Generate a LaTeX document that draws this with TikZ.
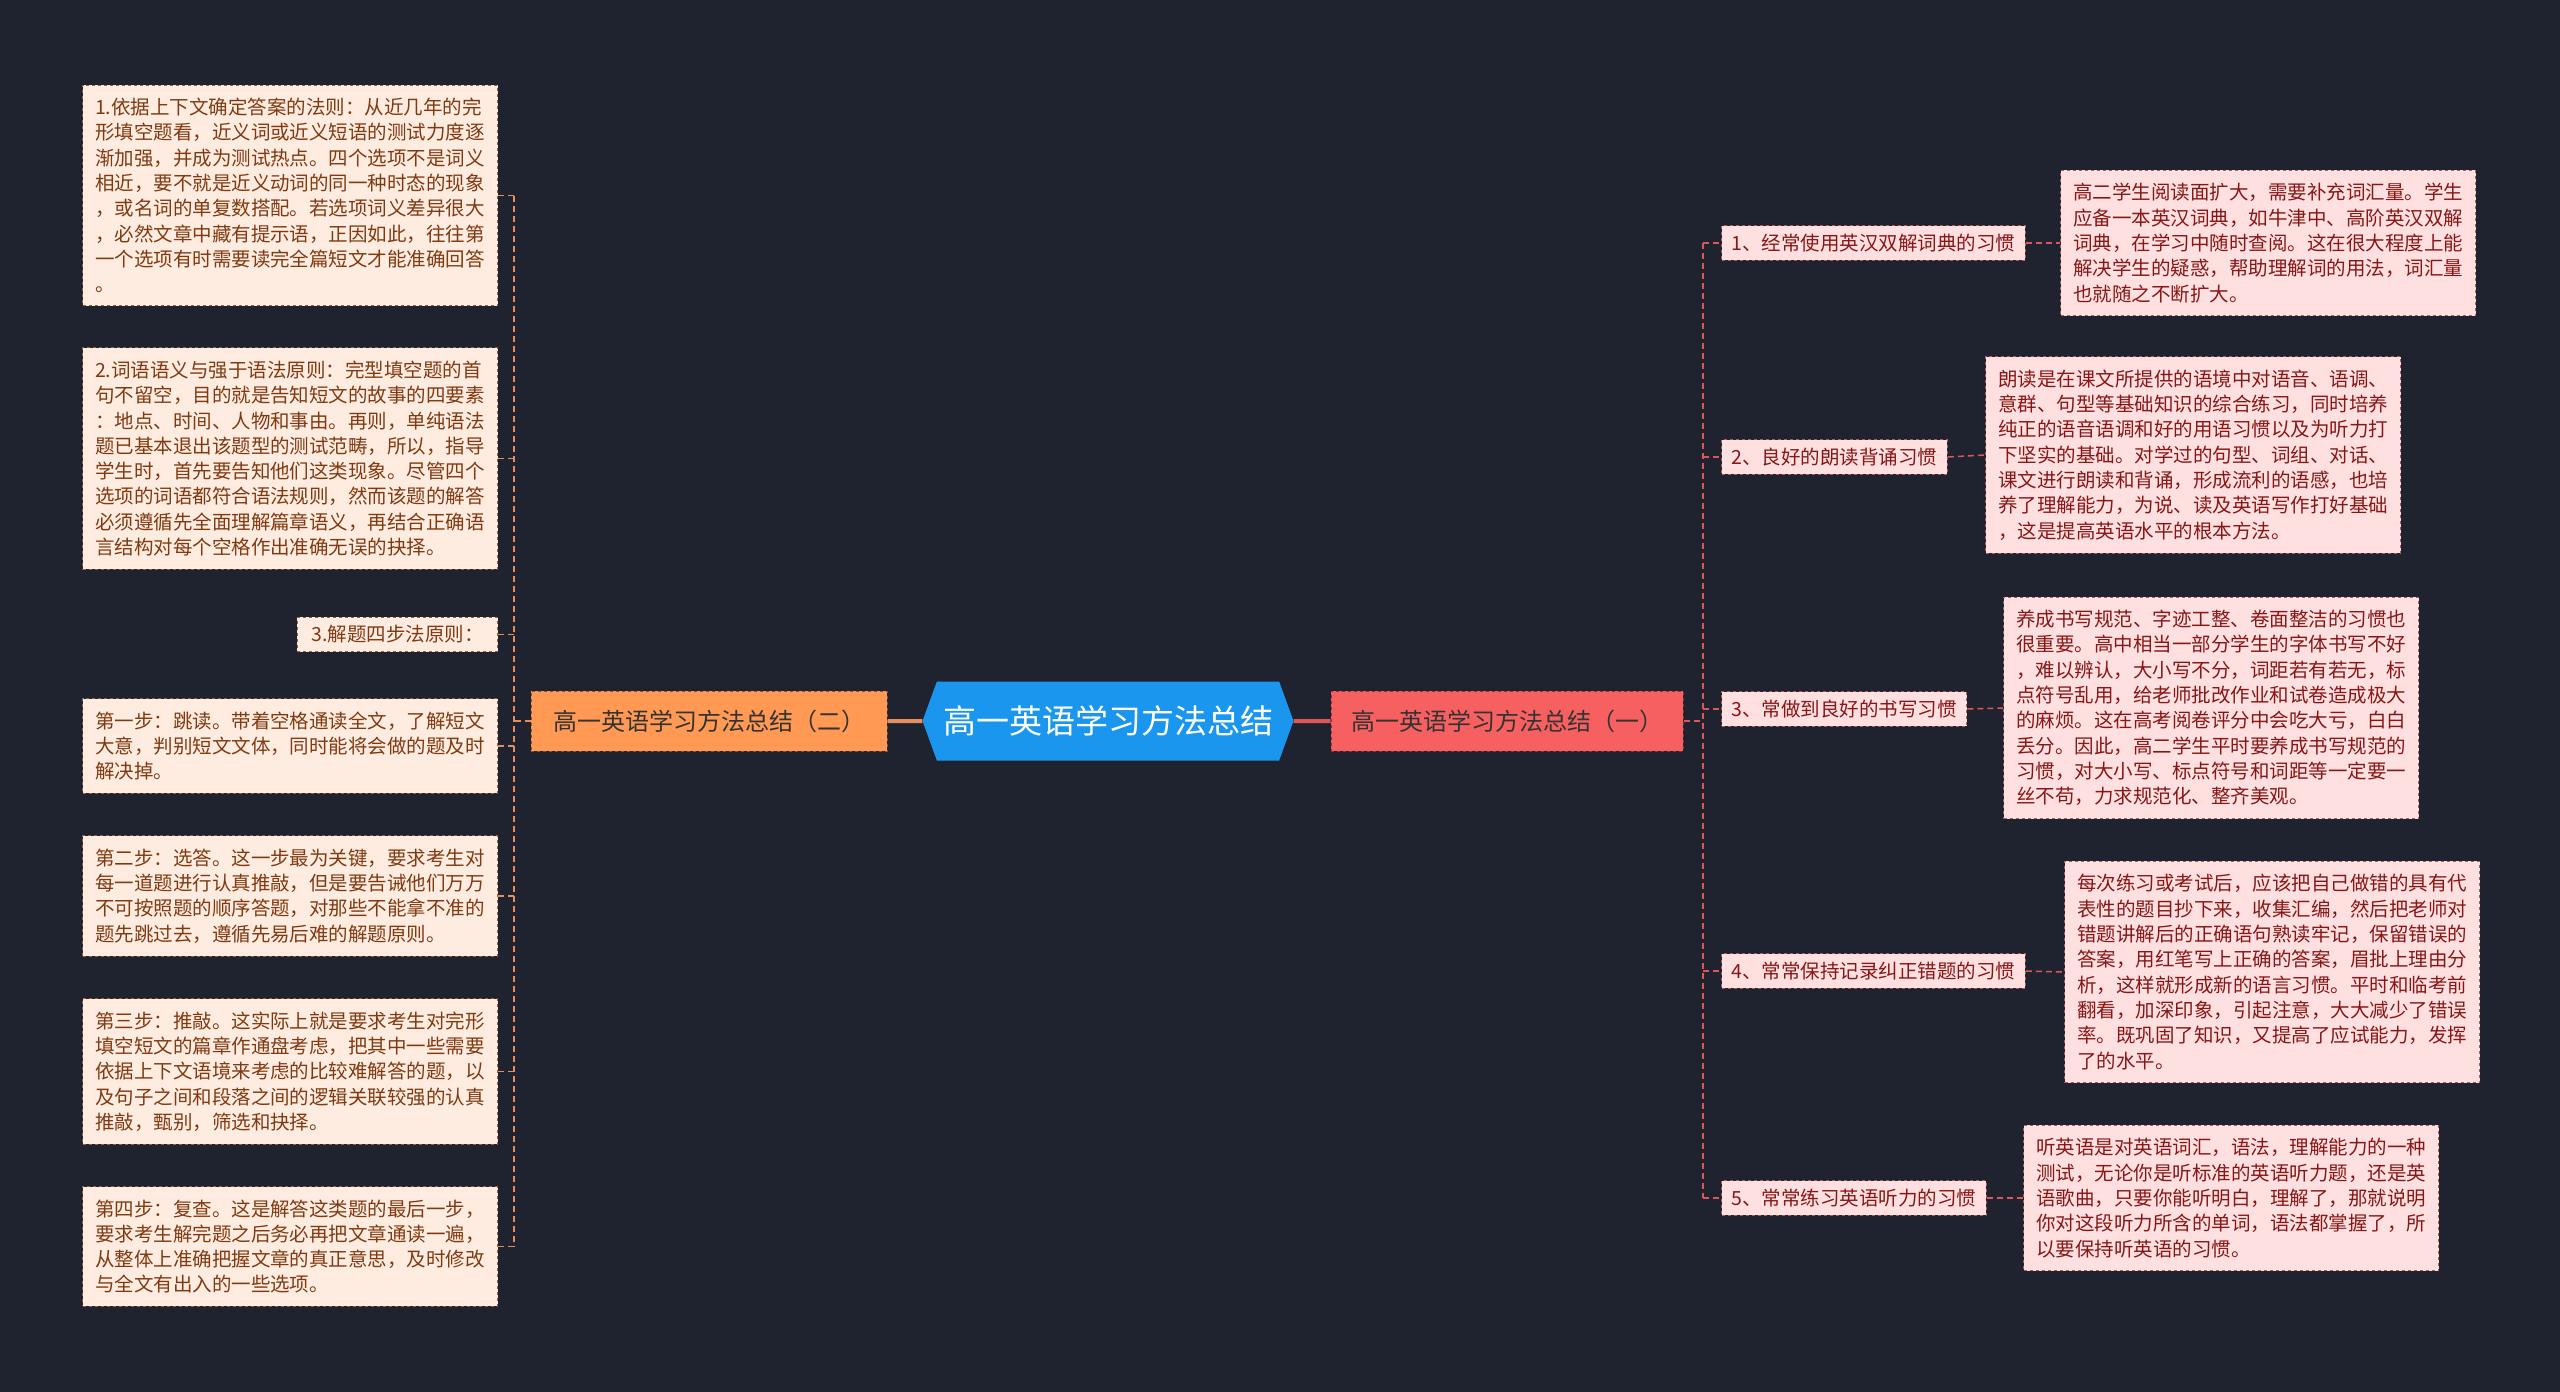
\documentclass[tikz,border=0pt]{standalone}
\usepackage{fontspec}
\setmainfont{Noto Sans CJK SC}
\usepackage{tikz}
\usetikzlibrary{positioning, shapes.symbols}
\definecolor{bgdark}{RGB}{31,35,48}
\definecolor{rootblue}{RGB}{27,150,238}
\definecolor{leftorange}{RGB}{255,153,84}
\definecolor{rightred}{RGB}{247,96,96}
\definecolor{notepeach}{RGB}{255,236,224}
\definecolor{notepink}{RGB}{255,224,224}
\definecolor{textbrown}{RGB}{128,58,18}
\definecolor{textred}{RGB}{136,22,22}
\definecolor{linkorange}{RGB}{232,140,92}
\definecolor{linkred}{RGB}{222,86,86}
\tikzset{
  root/.style={signal, signal to=west and east, signal pointer angle=140, fill=rootblue,
               text=white, font=\fontsize{33}{40}\selectfont, minimum width=371pt, minimum height=79pt},
  branchL/.style={fill=leftorange, draw=leftorange!55!black, dashed, line width=1pt,
                  text=black!80, font=\fontsize{24}{30}\selectfont, minimum width=356pt, minimum height=60pt},
  branchR/.style={fill=rightred, draw=rightred!55!black, dashed, line width=1pt,
                  text=black!80, font=\fontsize{24}{30}\selectfont, minimum width=352pt, minimum height=60pt},
  habit/.style={fill=notepink, draw=textred!70, dashed, line width=1pt, text=textred,
                font=\fontsize{19.5}{25.3}\selectfont, inner xsep=10pt, inner ysep=8pt},
  noteR/.style={fill=notepink, draw=textred!70, dashed, line width=1pt, text=textred, align=left,
                font=\fontsize{19.5}{25.3}\selectfont, inner xsep=12.5pt, inner ysep=13pt},
  noteL/.style={fill=notepeach, draw=textbrown!80, dashed, line width=1pt, text=textbrown, align=left,
                font=\fontsize{19.5}{25.3}\selectfont, inner xsep=12.5pt, inner ysep=13pt},
  linkL/.style={draw=linkorange, line width=1.5pt, dash pattern=on 6pt off 4pt},
  linkR/.style={draw=linkred, line width=1.5pt, dash pattern=on 6pt off 4pt},
}
\begin{document}
\begin{tikzpicture}[x=1pt, y=-1pt]
\useasboundingbox[fill=bgdark] (0,0) rectangle (2560,1392);
% centre and the two halves
\node[root] (root) at (1108,721) {高一英语学习方法总结};
\node[branchL] (bl) at (709,721) {高一英语学习方法总结（二）};
\node[branchR] (br) at (1507,721) {高一英语学习方法总结（一）};
\coordinate (lbus) at (514,721);
\coordinate (rbus) at (1703,721);
% right half
\node[habit, anchor=west] (h1) at (1721,243) {1、经常使用英汉双解词典的习惯};
\node[habit, anchor=west] (h2) at (1721,457) {2、良好的朗读背诵习惯};
\node[habit, anchor=west] (h3) at (1721,709) {3、常做到良好的书写习惯};
\node[habit, anchor=west] (h4) at (1721,971) {4、常常保持记录纠正错题的习惯};
\node[habit, anchor=west] (h5) at (1721,1198) {5、常常练习英语听力的习惯};
\node[noteR, anchor=west] (n1) at (2060,243) {高二学生阅读面扩大，需要补充词汇量。学生\\应备一本英汉词典，如牛津中、高阶英汉双解\\词典，在学习中随时查阅。这在很大程度上能\\解决学生的疑惑，帮助理解词的用法，词汇量\\也就随之不断扩大。};
\node[noteR, anchor=west] (n2) at (1985,455) {朗读是在课文所提供的语境中对语音、语调、\\意群、句型等基础知识的综合练习，同时培养\\纯正的语音语调和好的用语习惯以及为听力打\\下坚实的基础。对学过的句型、词组、对话、\\课文进行朗读和背诵，形成流利的语感，也培\\养了理解能力，为说、读及英语写作打好基础\\，这是提高英语水平的根本方法。};
\node[noteR, anchor=west] (n3) at (2003,708) {养成书写规范、字迹工整、卷面整洁的习惯也\\很重要。高中相当一部分学生的字体书写不好\\，难以辨认，大小写不分，词距若有若无，标\\点符号乱用，给老师批改作业和试卷造成极大\\的麻烦。这在高考阅卷评分中会吃大亏，白白\\丢分。因此，高二学生平时要养成书写规范的\\习惯，对大小写、标点符号和词距等一定要一\\丝不苟，力求规范化、整齐美观。};
\node[noteR, anchor=west] (n4) at (2064,972) {每次练习或考试后，应该把自己做错的具有代\\表性的题目抄下来，收集汇编，然后把老师对\\错题讲解后的正确语句熟读牢记，保留错误的\\答案，用红笔写上正确的答案，眉批上理由分\\析，这样就形成新的语言习惯。平时和临考前\\翻看，加深印象，引起注意，大大减少了错误\\率。既巩固了知识，又提高了应试能力，发挥\\了的水平。};
\node[noteR, anchor=west] (n5) at (2023,1198) {听英语是对英语词汇，语法，理解能力的一种\\测试，无论你是听标准的英语听力题，还是英\\语歌曲，只要你能听明白，理解了，那就说明\\你对这段听力所含的单词，语法都掌握了，所\\以要保持听英语的习惯。};
% left half
\node[noteL, anchor=east] (m1) at (498,195.5) {1.依据上下文确定答案的法则：从近几年的完\\形填空题看，近义词或近义短语的测试力度逐\\渐加强，并成为测试热点。四个选项不是词义\\相近，要不就是近义动词的同一种时态的现象\\，或名词的单复数搭配。若选项词义差异很大\\，必然文章中藏有提示语，正因如此，往往第\\一个选项有时需要读完全篇短文才能准确回答\\。};
\node[noteL, anchor=east] (m2) at (498,458.5) {2.词语语义与强于语法原则：完型填空题的首\\句不留空，目的就是告知短文的故事的四要素\\：地点、时间、人物和事由。再则，单纯语法\\题已基本退出该题型的测试范畴，所以，指导\\学生时，首先要告知他们这类现象。尽管四个\\选项的词语都符合语法规则，然而该题的解答\\必须遵循先全面理解篇章语义，再结合正确语\\言结构对每个空格作出准确无误的抉择。};
\node[noteL, anchor=east, inner xsep=14pt, inner ysep=8pt] (m3) at (498,634.5) {3.解题四步法原则：};
\node[noteL, anchor=east] (m4) at (498,746) {第一步：跳读。带着空格通读全文，了解短文\\大意，判别短文文体，同时能将会做的题及时\\解决掉。};
\node[noteL, anchor=east] (m5) at (498,896) {第二步：选答。这一步最为关键，要求考生对\\每一道题进行认真推敲，但是要告诫他们万万\\不可按照题的顺序答题，对那些不能拿不准的\\题先跳过去，遵循先易后难的解题原则。};
\node[noteL, anchor=east] (m6) at (498,1071.5) {第三步：推敲。这实际上就是要求考生对完形\\填空短文的篇章作通盘考虑，把其中一些需要\\依据上下文语境来考虑的比较难解答的题，以\\及句子之间和段落之间的逻辑关联较强的认真\\推敲，甄别，筛选和抉择。};
\node[noteL, anchor=east] (m7) at (498,1246.5) {第四步：复查。这是解答这类题的最后一步，\\要求考生解完题之后务必再把文章通读一遍，\\从整体上准确把握文章的真正意思，及时修改\\与全文有出入的一些选项。};
% connectors
\draw[draw=linkorange, line width=4pt] (root) -- (bl);
\draw[draw=linkred, line width=4pt] (root) -- (br);
\draw[linkL] (bl.west) -- (lbus);
\draw[linkR] (br.east) -- (rbus);
\draw[linkR] (rbus |- h1.west) -- (rbus |- h5.west);
\foreach \i in {1,...,5} {
  \draw[linkR] (rbus |- h\i.west) -- (h\i.west);
  \draw[linkR] (h\i.east) -- (n\i.west);
}
\draw[linkL] (lbus |- m1.east) -- (lbus |- m7.east);
\foreach \i in {1,...,7}
  \draw[linkL] (m\i.east) -- (lbus |- m\i.east);
\end{tikzpicture}
\end{document}
